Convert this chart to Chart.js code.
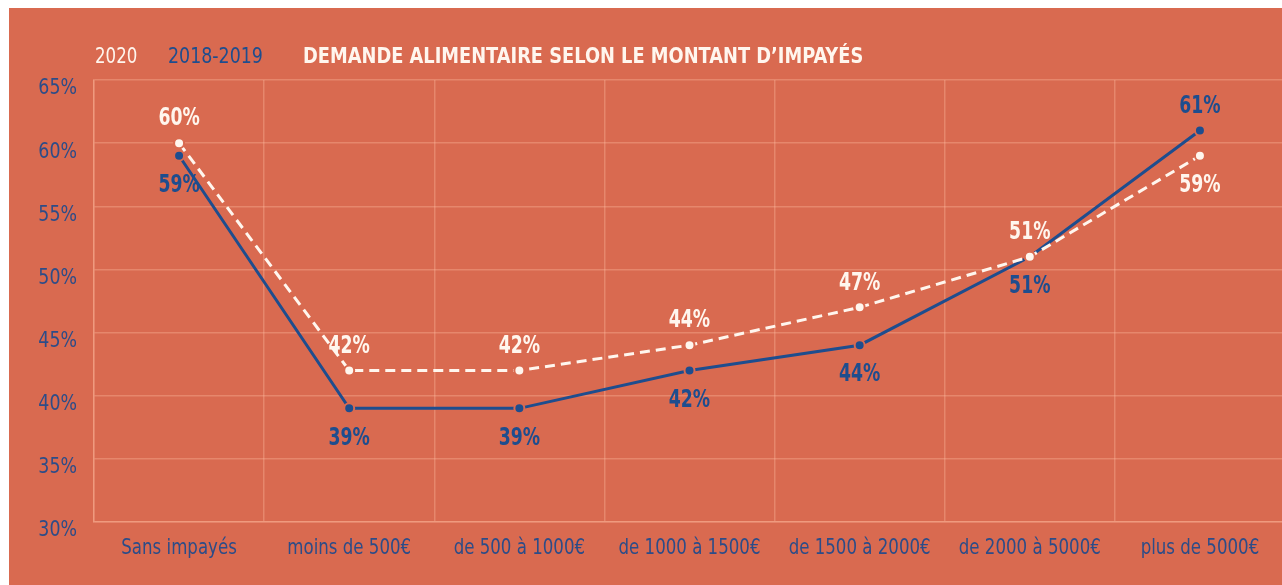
<!DOCTYPE html>
<html>
<head>
<meta charset="utf-8">
<script src="https://cdn.jsdelivr.net/npm/chart.js@4.4.0/dist/chart.umd.min.js"></script>
<style>
    html, body { margin: 0; padding: 0; background: #fff; }
    #wrap { position: absolute; left: 9px; top: 8px; width: 1273px; height: 577px; overflow: hidden; background: #D96A50; }
</style>
</head>
<body>
<div id="wrap"><canvas id="Canvas-Main" width="1294" height="577"></canvas></div>
<script>
// data
var categories = ['Sans impayés', 'moins de 500€', 'de 500 à 1000€', 'de 1000 à 1500€', 'de 1500 à 2000€', 'de 2000 à 5000€', 'plus de 5000€'];
var values2020 = [60, 42, 42, 44, 47, 51, 59];
var values2018 = [59, 39, 39, 42, 44, 51, 61];
var yTicks = [30, 35, 40, 45, 50, 55, 60, 65];
var titleText = 'DEMANDE ALIMENTAIRE SELON LE MONTANT D\u2019IMPAYÉS';

var orange = '#D96A50';
var blue = '#1E4D8E';
var cream = '#FFF6EE';
var tickBlue = '#2C4C88';
var gridColor = 'rgba(255,190,160,0.35)';
var narrow = "'DejaVu Sans Condensed', 'Liberation Sans Narrow', sans-serif";

// the original font is a tall condensed one, so squeeze the text sideways
function drawNarrow(ctx, text, x, y, align, font, color, sx) {
    ctx.save();
    ctx.font = font;
    ctx.fillStyle = color;
    ctx.textBaseline = 'middle';
    ctx.textAlign = align;
    ctx.translate(x, y);
    ctx.scale(sx, 1);
    ctx.fillText(text, 0, 0);
    ctx.restore();
}

// labels above / below each point
var labelPlugin = {
    id: 'pointLabels',
    afterDatasetsDraw: function (chart) {
        var ctx = chart.ctx;
        chart.data.datasets.forEach(function (ds, i) {
            var meta = chart.getDatasetMeta(i);
            meta.data.forEach(function (pt, j) {
                var dy = ds.labelPos[j] == 'top' ? -24 : 30;
                drawNarrow(ctx, ds.data[j] + '%', pt.x, pt.y + dy, 'center', 'bold 24px ' + narrow, ds.borderColor, 0.8);
            });
        });
    }
};

// axis labels + legend + title row
var textPlugin = {
    id: 'texts',
    afterDraw: function (chart) {
        var ctx = chart.ctx;
        var x = chart.scales.x;
        var y = chart.scales.y;
        categories.forEach(function (c, i) {
            drawNarrow(ctx, c, x.getPixelForTick(i), y.bottom + 27, 'center', '21px ' + narrow, tickBlue, 0.88);
        });
        yTicks.forEach(function (v) {
            drawNarrow(ctx, v + '%', y.left + 68, y.getPixelForValue(v) + 9, 'right', '21px ' + narrow, tickBlue, 0.92);
        });
        drawNarrow(ctx, '2020', 86, 49, 'left', '22px ' + narrow, cream, 0.84);
        drawNarrow(ctx, '2018-2019', 159, 49, 'left', '22px ' + narrow, blue, 0.88);
        drawNarrow(ctx, titleText, 294, 49, 'left', 'bold 22px ' + narrow, cream, 0.9);
    }
};

var ctx = document.getElementById('Canvas-Main').getContext('2d');
var myChart = new Chart(ctx, {
    type: 'line',
    data: {
        labels: categories,
        datasets: [
            {
                label: '2020',
                data: values2020,
                borderColor: cream,
                backgroundColor: cream,
                borderWidth: 3,
                borderDash: [10, 6],
                pointRadius: 5,
                pointBorderWidth: 2,
                pointBorderColor: orange,
                pointBackgroundColor: cream,
                tension: 0,
                labelPos: ['top', 'top', 'top', 'top', 'top', 'top', 'bottom']
            },
            {
                label: '2018-2019',
                data: values2018,
                borderColor: blue,
                backgroundColor: blue,
                borderWidth: 3,
                pointRadius: 5,
                pointBorderWidth: 2,
                pointBorderColor: orange,
                pointBackgroundColor: blue,
                tension: 0,
                labelPos: ['bottom', 'bottom', 'bottom', 'bottom', 'bottom', 'bottom', 'top']
            }
        ]
    },
    options: {
        responsive: false,
        animation: false,
        layout: {
            padding: { left: 0, right: 18, top: 72, bottom: 0 }
        },
        plugins: {
            legend: { display: false },
            title: { display: false },
            tooltip: { enabled: false }
        },
        scales: {
            x: {
                offset: true,
                grid: {
                    offset: true,
                    color: gridColor,
                    lineWidth: 1.5,
                    drawTicks: false
                },
                border: { color: gridColor, width: 1.5 },
                ticks: { display: false },
                afterFit: function (s) { s.height = 63; }
            },
            y: {
                min: 30,
                max: 65,
                afterBuildTicks: function (s) {
                    s.ticks = yTicks.map(function (v) { return { value: v }; });
                },
                grid: {
                    color: gridColor,
                    lineWidth: 1.5,
                    drawTicks: false
                },
                border: { color: gridColor, width: 1.5 },
                ticks: { display: false },
                afterFit: function (s) { s.width = 85; }
            }
        }
    },
    plugins: [labelPlugin, textPlugin]
});
</script>
</body>
</html>
